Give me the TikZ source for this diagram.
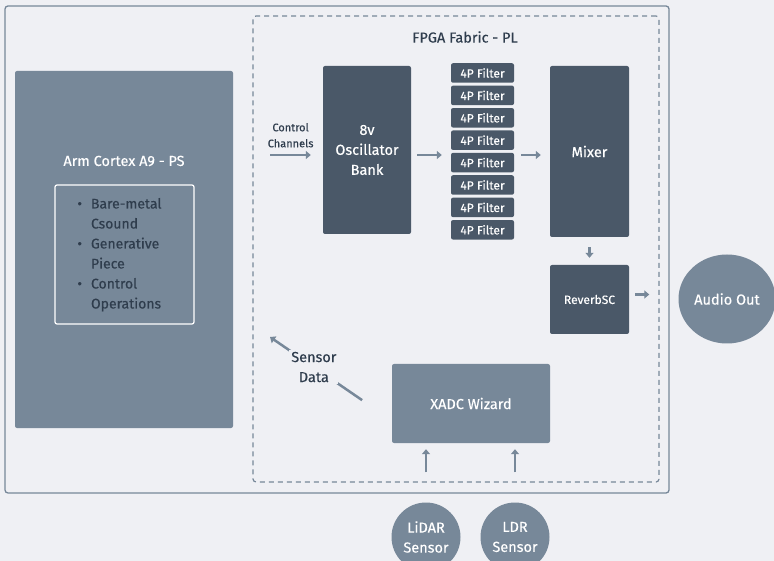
\documentclass[tikz,border=0pt]{standalone}
\usepackage{fontspec}
\setmainfont{Fira Sans}[FakeBold=0.35]
\usepackage{tikz}
\usetikzlibrary{arrows.meta, calc, positioning, shapes, shadows}

\definecolor{bgcol}{HTML}{EFF0F4}
\definecolor{slate}{HTML}{778899}
\definecolor{darkslate}{HTML}{4A5868}
\definecolor{inkcol}{HTML}{2F3D4D}

\begin{document}
\begin{tikzpicture}[
    x=1pt, y=-1pt,
    node distance=2.5pt,
    box/.style={rounded corners=2pt, align=center, inner sep=0pt,
                font=\fontsize{14.5}{20}\selectfont, fill=#1, text=white},
    filterbox/.style={box={darkslate}, minimum width=63pt, minimum height=19.5pt,
                      font=\fontsize{12}{12}\selectfont},
    blob/.style={ellipse, fill=slate, text=white, align=center, inner sep=0pt,
                 font=\fontsize{14.5}{20}\selectfont},
    caption/.style={text=inkcol, align=center, font=\fontsize{14.5}{20}\selectfont},
    arrow/.style={-{Triangle[length=5pt, width=8pt]}, line width=2.5pt, draw=slate},
]
\useasboundingbox[fill=bgcol] (0,0) rectangle (774,561);

\node[draw=slate, line width=1.3pt, rounded corners=3pt, minimum width=664pt,
      minimum height=487pt] (board) at (337,249.5) {};
\node[draw=slate, line width=1.2pt, dashed, dash pattern=on 5pt off 4pt,
      rounded corners=3pt, minimum width=406pt, minimum height=466pt] (fpga) at (456,249) {};
\node[caption] (fpgatitle) at (465,37) {FPGA Fabric - PL};

\node[box={slate}, minimum width=218pt, minimum height=357pt] (arm) at (124,249.5) {};
\node[text=white, font=\fontsize{14.5}{20}\selectfont] (armtitle) at (124,161) {Arm Cortex A9 - PS};
\node[box={slate}, draw=white, line width=1.2pt, minimum width=139pt, minimum height=139pt,
      text=inkcol, font=\fontsize{14}{20}\selectfont] (tasks) at (124.5,254.5)
      {\begin{tabular}{@{}l@{\hspace{9pt}}l@{}}
       \textbullet & Bare-metal\\ & Csound\\
       \textbullet & Generative\\ & Piece\\
       \textbullet & Control\\ & Operations
       \end{tabular}\hspace*{10pt}};

\node[box={darkslate}, minimum width=88pt, minimum height=168pt] (osc) at (367,150) {8v\\Oscillator\\Bank};

\node[filterbox] (f1) at (482.5,73) {4P Filter};
\node[filterbox, below=of f1] (f2) {4P Filter};
\node[filterbox, below=of f2] (f3) {4P Filter};
\node[filterbox, below=of f3] (f4) {4P Filter};
\node[filterbox, below=of f4] (f5) {4P Filter};
\node[filterbox, below=of f5] (f6) {4P Filter};
\node[filterbox, below=of f6] (f7) {4P Filter};
\node[filterbox, below=of f7] (f8) {4P Filter};

\node[box={darkslate}, minimum width=79pt, minimum height=171pt] (mixer) at (589.5,151.5) {Mixer};
\node[box={darkslate}, minimum width=79pt, minimum height=69pt,
      font=\fontsize{12}{14}\selectfont] (reverb) at (589.5,299.5) {ReverbSC};
\node[box={slate}, minimum width=158pt, minimum height=79pt] (xadc) at (471,403.5) {XADC Wizard};

\node[blob, minimum width=97pt, minimum height=89pt] (audio) at (727,299) {Audio Out};
\node[blob, minimum size=69pt] (lidar) at (426,537) {LiDAR\\Sensor};
\node[blob, minimum size=69pt] (ldr) at (515,537) {LDR\\Sensor};

\coordinate (ctrlin) at (270,155);
\coordinate (sdhead) at (270,337);

\draw[arrow, shorten >=12pt] (ctrlin) -- node[pos=0.39, above=3pt, caption,
      font=\fontsize{11}{16}\selectfont] {Control\\Channels} (ctrlin -| osc.west);
\draw[arrow, shorten <=6pt, shorten >=9pt] ([yshift=-5pt]osc.east) -- ([yshift=-5pt]osc.east -| f5.west);
\draw[arrow, shorten <=7pt, shorten >=9pt] ([yshift=-5pt]osc.east -| f5.east) -- ([yshift=-5pt]osc.east -| mixer.west);
\draw[arrow, shorten <=10pt, shorten >=7pt] (mixer.south) -- (reverb.north);
\draw[arrow, shorten <=6pt, shorten >=29pt] ([yshift=5pt]reverb.east) -- ([yshift=5pt]reverb.east -| audio.west);
\draw[arrow, shorten <=30pt, shorten >=6pt] (lidar.north) -- (lidar.north |- xadc.south);
\draw[arrow, shorten <=30pt, shorten >=6pt] (ldr.north) -- (ldr.north |- xadc.south);
\draw[arrow, shorten <=36pt] ([yshift=-17pt]xadc.west) -- node[pos=0.64, caption, fill=bgcol,
      inner sep=2pt] {Sensor\\Data} (sdhead);
\end{tikzpicture}
\end{document}
